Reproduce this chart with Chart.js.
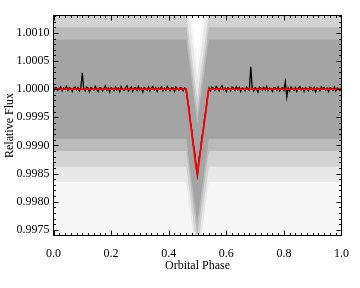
<!DOCTYPE html>
<html><head><meta charset="utf-8">
<script src="https://cdn.jsdelivr.net/npm/chart.js@4/dist/chart.umd.min.js"></script>
<style>html,body{margin:0;padding:0;background:#fff}canvas{display:block}</style>
</head><body>
<canvas id="c" width="360" height="288"></canvas>
<script>
// ---- axis ticks ----
const xTickValues = [0, 0.2, 0.4, 0.6, 0.8, 1.0];
const xTickLabels = ['0.0', '0.2', '0.4', '0.6', '0.8', '1.0'];
const yTickValues = [0.9975, 0.9980, 0.9985, 0.9990, 0.9995, 1.0000, 1.0005, 1.0010];
const yTickLabels = ['0.9975', '0.9980', '0.9985', '0.9990', '0.9995', '1.0000', '1.0005', '1.0010'];

// ---- eclipse model (red) ----
const modelPhase = [0, 0.461, 0.494, 0.499, 0.504, 0.539, 1.0];
const modelFlux  = [1.0, 1.0, 0.99866, 0.99850, 0.99866, 1.0, 1.0];

// ---- binned light curve (black): phase = binStart + i*binStep, flux = 1 + offset*1e-5 ----
const binStart = 0, binStep = 0.005;
const binOffset = [
  -4, 2, 3, -2, 1, 4, -3, 2, 0, 5,
  -2, 3, 1, -4, 2, 4, -1, 3, -3, 2,
  29, 1, -3, 4, 2, -5, 3, 1, -2, 5,
  0, -4, 3, 2, -3, 1, 6, -2, 2, -5,
  3, 1, -3, 4, -1, 2, -4, 5, 0, -2,
  3, 6, -3, 1, 4, -4, 2, 3, -2, 5,
  -1, 2, -5, 3, 1, -2, 4, -3, 2, 5,
  -1, 3, -4, 2, 0, 4, -3, 2, -2, 5,
  1, -3, 3, 2, -4, 4, 1, -2, 3, 2,
  -3, 2, 1, -18, -33, -57, -72, -97, -111, -136,
  -153, -123, -110, -86, -73, -50, -35, -12, 2, -3,
  4, 2, -2, 5, 1, -3, 3, 6, -1, 2,
  -4, 3, 1, -3, 4, 2, -2, 5, -1, 3,
  -4, 2, 1, -3, 4, 0, -2, 40, 2, -3,
  3, 1, -5, 4, 2, -2, 3, -1, 5, -3,
  2, 1, -4, 3, 2, -2, 4, -3, 1, 3,
  -2, 13, -14, 2, -3, 4, 1, -2, 3, -4,
  2, 5, -1, 2, -4, 3, 1, -3, 4, 2,
  -2, 3, -5, 2, 1, -3, 4, 0, 3, -2,
  2, -4, 3, 1, -2, 4, -3, 2, 1, -2,
  2
];

// ---- unbinned point cloud (grey), drawn as density envelopes ----
const cloudPhase  = [0, 0.461, 0.499, 0.539, 1.0];
const cloudUpper1 = [1.00088, 1.00088, 0.99938, 1.00088, 1.00088];
const cloudLower1 = [0.99912, 0.99912, 0.99762, 0.99912, 0.99912];
const cloudUpper2 = [1.00110, 1.00110, 0.99960, 1.00110, 1.00110];
const cloudLower2 = [0.99890, 0.99890, 0.99740, 0.99890, 0.99890];
const cloudUpper3 = [1.00135, 1.00135, 0.99985, 1.00135, 1.00135];
const cloudLower3 = [0.99862, 0.99862, 0.99712, 0.99862, 0.99862];
const cloudUpper4 = [1.00170, 1.00170, 1.00020, 1.00170, 1.00170];
const cloudLower4 = [0.99835, 0.99835, 0.99685, 0.99835, 0.99835];
const cloudUpper5 = [1.00200, 1.00200, 1.00050, 1.00200, 1.00200];
const cloudLower5 = [0.99600, 0.99600, 0.99600, 0.99600, 0.99600];
const cloudColors = ['#a4a4a4', '#bababa', '#d2d2d2', '#e8e8e8', '#f6f6f6'];

const FONT = {family: 'Liberation Serif', size: 12};

const pts = (xs, ys) => xs.map((x, i) => ({x: x, y: ys[i]}));
const binData = binOffset.map((d, i) => ({x: binStart + i * binStep, y: 1 + d * 1e-5}));
const uppers = [cloudUpper1, cloudUpper2, cloudUpper3, cloudUpper4, cloudUpper5];
const lowers = [cloudLower1, cloudLower2, cloudLower3, cloudLower4, cloudLower5];

const datasets = [
  {data: pts(modelPhase, modelFlux), borderColor: '#ff0000', borderWidth: 1.8, fill: false, order: 0},
  {data: binData, borderColor: '#000000', borderWidth: 1.3, fill: false, order: 1}
];
for (let k = 0; k < 5; k++) {
  datasets.push({data: pts(cloudPhase, uppers[k]), fill: '+1', backgroundColor: cloudColors[k],
                 borderColor: 'rgba(0,0,0,0)', borderWidth: 0, order: 2 + k});
  datasets.push({data: pts(cloudPhase, lowers[k]), fill: false,
                 borderColor: 'rgba(0,0,0,0)', borderWidth: 0, order: 2 + k});
}

const frameTicks = {
  id: 'frameTicks',
  afterDraw(chart) {
    const {ctx, chartArea: a, scales: {x, y}} = chart;
    ctx.save();
    ctx.strokeStyle = '#000'; ctx.lineWidth = 1;
    ctx.beginPath();
    for (let k = 0; k <= 50; k++) {
      const len = (k % 10 === 0) ? 5 : 2.5;
      const px = Math.round(x.getPixelForValue(k * 0.02)) + 0.5;
      if (px <= a.left + 0.6 || px >= a.right - 0.6) continue;
      ctx.moveTo(px, a.bottom); ctx.lineTo(px, a.bottom - len);
      ctx.moveTo(px, a.top); ctx.lineTo(px, a.top + len);
    }
    const k0 = Math.ceil(y.min * 10000 - 1e-6), k1 = Math.floor(y.max * 10000 + 1e-6);
    for (let k = k0; k <= k1; k++) {
      const len = (k % 5 === 0) ? 5 : 2.5;
      const py = Math.round(y.getPixelForValue(k / 10000)) + 0.5;
      if (py <= a.top + 0.6 || py >= a.bottom - 0.6) continue;
      ctx.moveTo(a.left, py); ctx.lineTo(a.left + len, py);
      ctx.moveTo(a.right, py); ctx.lineTo(a.right - len, py);
    }
    ctx.stroke();
    ctx.strokeRect(a.left, a.top, a.right - a.left, a.bottom - a.top);
    ctx.restore();
  }
};

new Chart(document.getElementById('c'), {
  type: 'line',
  data: {datasets: datasets},
  options: {
    responsive: false, animation: false, devicePixelRatio: 1,
    layout: {padding: {left: 0, top: 15.5, right: 17.5, bottom: 0}},
    elements: {point: {radius: 0}, line: {tension: 0}},
    plugins: {legend: {display: false}, tooltip: {enabled: false}},
    scales: {
      x: {
        type: 'linear', min: 0, max: 1, position: 'bottom',
        grid: {display: false, drawTicks: false}, border: {display: false},
        afterBuildTicks: s => { s.ticks = xTickValues.map(v => ({value: v})); },
        afterFit: s => { s.height = 52.5; },
        ticks: {font: FONT, color: '#000', padding: 11, maxRotation: 0, autoSkip: false,
                callback: (v, i) => xTickLabels[i]},
        title: {display: true, text: 'Orbital Phase', font: FONT, color: '#000', padding: {top: 0, bottom: 15}}
      },
      y: {
        type: 'linear', min: 0.99740, max: 1.00131, position: 'left',
        grid: {display: false, drawTicks: false}, border: {display: false},
        afterBuildTicks: s => { s.ticks = yTickValues.map(v => ({value: v})); },
        afterFit: s => { s.width = 53.5; },
        ticks: {font: FONT, color: '#000', padding: 4, autoSkip: false,
                callback: (v, i) => yTickLabels[i]},
        title: {display: true, text: 'Relative Flux', font: FONT, color: '#000', padding: {top: 3, bottom: 0}}
      }
    }
  },
  plugins: [frameTicks]
});
</script>
</body></html>
